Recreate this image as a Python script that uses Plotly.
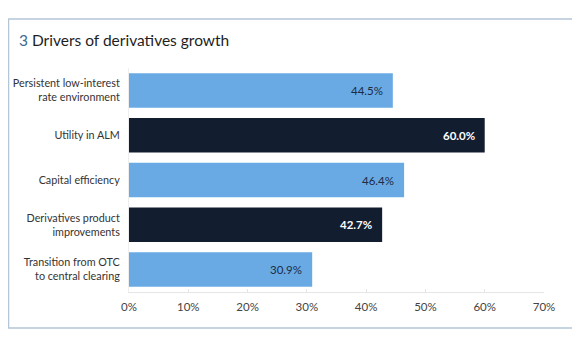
import plotly.graph_objects as go

categories = [
    "Persistent low-interest<br>rate environment",
    "Utility in ALM",
    "Capital efficiency",
    "Derivatives product<br>improvements",
    "Transition from OTC<br>to central clearing",
]
values = [44.5, 60.0, 46.4, 42.7, 30.9]
bar_colors = ["#6aaae4", "#121d30", "#6aaae4", "#121d30", "#6aaae4"]
label_colors = ["#1c2c44", "#ffffff", "#1c2c44", "#ffffff", "#1c2c44"]
label_bold = [False, True, False, True, False]
tick_vals = [0, 10, 20, 30, 40, 50, 60, 70]
tick_text = ["0%", "10%", "20%", "30%", "40%", "50%", "60%", "70%"]

# page body has an 8px margin: draw the figure 8px smaller and shift coords
OFF = 8
W, H = 580 - OFF, 358 - OFF
L, R, T, B = 129 - OFF, 36, 68 - OFF, 66
FONT = "Lato"

fig = go.Figure()
fig.add_trace(go.Bar(
    x=values, y=categories, orientation="h",
    marker=dict(color=bar_colors, line=dict(width=0)),
    width=0.77, hoverinfo="skip",
))

for v, c, col, b in zip(values, categories, label_colors, label_bold):
    t = f"{v:.1f}%"
    fig.add_annotation(
        x=v, y=c, xref="x", yref="y", text=f"<b>{t}</b>" if b else t,
        showarrow=False, xanchor="right", xshift=-8,
        font=dict(family=FONT, size=11.5, color=col),
    )

pw = W - L - R
ph = H - T - B
def px_x(p): return (p - OFF - L) / pw
def px_y(p): return (H - B - (p - OFF)) / ph

fig.add_shape(type="rect", xref="paper", yref="paper",
              x0=px_x(8.5), x1=px_x(573), y0=px_y(328), y1=px_y(19),
              line=dict(color="#b4c5d6", width=1.5), layer="below")

fig.add_annotation(
    xref="paper", yref="paper", x=px_x(17), y=px_y(40),
    xanchor="left", yanchor="middle", showarrow=False,
    text="<span style='color:#3e6a8e'>3</span> Drivers of derivatives growth",
    font=dict(family=FONT, size=15.5, color="#1e1e1e"),
)

fig.update_layout(
    width=W, height=H,
    margin=dict(l=L, r=R, t=T, b=B, autoexpand=False),
    paper_bgcolor="white", plot_bgcolor="white",
    showlegend=False,
    font=dict(family=FONT, size=11, color="#333333"),
    xaxis=dict(
        range=[0, 70], tickvals=tick_vals, ticktext=tick_text,
        showgrid=False, zeroline=False,
        showline=True, linecolor="#e6e6e6", linewidth=1,
        ticks="inside", ticklen=3, tickcolor="#e6e6e6",
        tickfont=dict(family=FONT, size=11.5, color="#444444"),
        ticklabelstandoff=4,
        automargin=False, fixedrange=True,
    ),
    yaxis=dict(
        autorange="reversed", showgrid=False, zeroline=False,
        showline=True, linecolor="#eeeeee", linewidth=1,
        ticks="", ticklabelstandoff=6,
        tickfont=dict(family=FONT, size=10.8, color="#333333"),
        automargin=False, fixedrange=True,
    ),
)

fig.write_html("out.html")
